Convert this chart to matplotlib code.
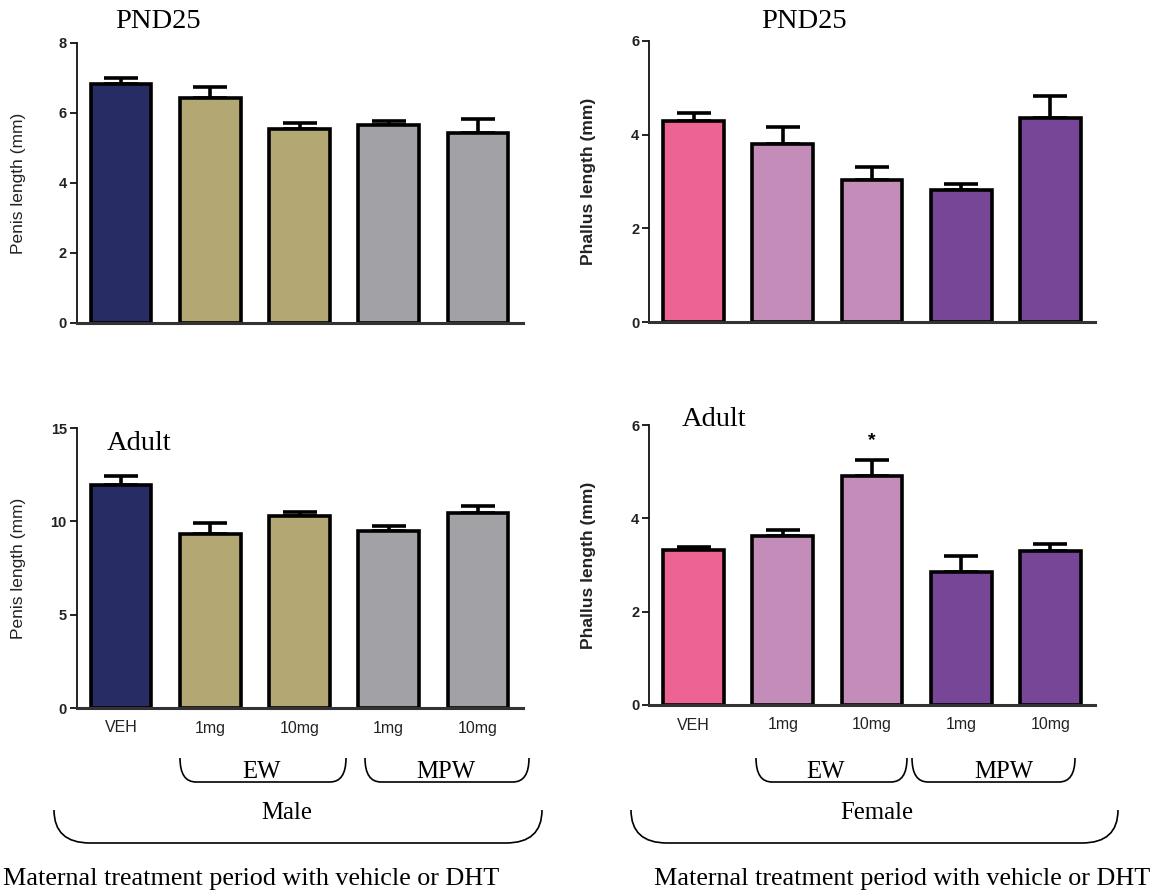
import matplotlib
matplotlib.use("Agg")
import matplotlib.pyplot as plt
from matplotlib.path import Path
from matplotlib.patches import PathPatch
import numpy as np

# ---------------- data ----------------
groups = ["VEH", "1mg", "10mg", "1mg", "10mg"]

male_pnd25 = [6.83, 6.44, 5.54, 5.66, 5.42]
male_pnd25_sem = [0.17, 0.31, 0.16, 0.12, 0.41]
female_pnd25 = [4.30, 3.81, 3.04, 2.81, 4.35]
female_pnd25_sem = [0.16, 0.35, 0.27, 0.14, 0.47]
male_adult = [11.92, 9.34, 10.26, 9.46, 10.45]
male_adult_sem = [0.52, 0.57, 0.24, 0.27, 0.35]
female_adult = [3.32, 3.62, 4.91, 2.86, 3.31]
female_adult_sem = [0.07, 0.14, 0.34, 0.33, 0.15]

male_colors = ["#282C64", "#B3A874", "#B3A874", "#A2A1A6", "#A2A1A6"]
female_colors = ["#ED6494", "#C38CB9", "#C38CB9", "#784696", "#784696"]

SANS = "Liberation Sans"
SERIF = "Liberation Serif"

W, H = 1156, 896
fig = plt.figure(figsize=(W / 100, H / 100), dpi=100)
fig.patch.set_facecolor("white")


def rect(x0, x1, ytop, ybot):
    return [x0 / W, 1 - ybot / H, (x1 - x0) / W, (ybot - ytop) / H]


def panel(r, vals, sem, colors, ymax, yticks, ylabel, ybold, show_x, labx):
    ax = fig.add_axes(r)
    x = np.arange(len(vals))
    ax.errorbar(x, vals, yerr=[np.zeros(len(vals)), sem], fmt="none",
                ecolor="black", elinewidth=2.6, capsize=12, capthick=2.6,
                zorder=1, clip_on=False)
    ax.bar(x, vals, width=0.68, color=colors, edgecolor="black",
           linewidth=2.6, zorder=2, clip_on=False)
    ax.set_xlim(-0.5, len(vals) - 0.5)
    ax.set_ylim(0, ymax)
    ax.set_yticks(yticks)
    ax.set_yticklabels([str(t) for t in yticks], fontfamily=SANS,
                       fontweight="bold", fontsize=10.5, color="#222222")
    for s in ["top", "right"]:
        ax.spines[s].set_visible(False)
    ax.spines["left"].set_linewidth(1.3)
    ax.spines["left"].set_color("#111111")
    ax.spines["bottom"].set_linewidth(2.2)
    ax.spines["bottom"].set_color("#333333")
    ax.tick_params(axis="y", direction="out", length=5, width=1.3, pad=2,
                   color="#111111")
    ax.tick_params(axis="x", length=0, pad=9)
    ax.set_xticks(x)
    if show_x:
        ax.set_xticklabels(groups, fontfamily=SANS, fontsize=11.5,
                           color="#222222")
    else:
        ax.set_xticklabels([])
    ax.set_ylabel(ylabel, fontfamily=SANS, fontsize=12.5,
                  fontweight="bold" if ybold else "normal", va="center",
                  color="#222222")
    ax.yaxis.set_label_coords(labx, 0.5)
    ax.patch.set_alpha(0)
    return ax


LX0, LX1 = 76.5, 522.5
RX0, RX1 = 649, 1095
ax1 = panel(rect(LX0, LX1, 43, 323), male_pnd25, male_pnd25_sem, male_colors,
            8, [0, 2, 4, 6, 8], "Penis length (mm)", False, False,
            (19 - LX0) / (LX1 - LX0))
ax2 = panel(rect(RX0, RX1, 41, 322), female_pnd25, female_pnd25_sem,
            female_colors, 6, [0, 2, 4, 6], "Phallus length (mm)", True,
            False, (589 - RX0) / (RX1 - RX0))
ax3 = panel(rect(LX0, LX1, 428, 708), male_adult, male_adult_sem, male_colors,
            15, [0, 5, 10, 15], "Penis length (mm)", False, True,
            (19 - LX0) / (LX1 - LX0))
ax4 = panel(rect(RX0, RX1, 425, 705), female_adult, female_adult_sem,
            female_colors, 6, [0, 2, 4, 6], "Phallus length (mm)", True,
            True, (589 - RX0) / (RX1 - RX0))

ax4.text(2, 5.66, "*", ha="center", va="center", fontsize=14,
         fontweight="bold", fontfamily=SANS)

# ---------------- overlay for annotations (pixel coordinates) ----------------
ov = fig.add_axes([0, 0, 1, 1])
ov.set_xlim(0, W)
ov.set_ylim(H, 0)
ov.axis("off")
ov.patch.set_alpha(0)


def serif(x, y, s, size, ha="center"):
    ov.text(x, y, s, ha=ha, va="center", fontsize=size, fontfamily=SERIF,
            color="black")


serif(157.5, 22, "PND25", 20.5)
serif(804, 22, "PND25", 20.5)
serif(107, 444, "Adult", 20.5, ha="left")
serif(682, 420, "Adult", 20.5, ha="left")


def bracket(x0, x1, yt, yb, r):
    verts = [(x0, yt), (x0, yb), (x0 + r, yb), (x1 - r, yb), (x1, yb), (x1, yt)]
    codes = [Path.MOVETO, Path.CURVE3, Path.CURVE3, Path.LINETO,
             Path.CURVE3, Path.CURVE3]
    ov.add_patch(PathPatch(Path(verts, codes), fill=False, lw=1.2,
                           edgecolor="black"))


# male brackets
bracket(180, 346, 758, 782, 16)
bracket(365, 529, 758, 782, 16)
bracket(54, 542, 810, 843, 36)
serif(262, 772, "EW", 17.8)
serif(446, 772, "MPW", 17.8)
serif(287, 813, "Male", 17.8)

# female brackets
bracket(756, 907, 758, 782, 16)
bracket(912, 1075, 758, 782, 16)
bracket(631, 1118, 810, 843, 36)
serif(826, 772, "EW", 17.8)
serif(1004, 772, "MPW", 17.8)
serif(877, 813, "Female", 17.8)

serif(3, 879, "Maternal treatment period with vehicle or DHT", 18.8, ha="left")
serif(1150, 879, "Maternal treatment period with vehicle or DHT", 18.8,
      ha="right")

fig.savefig("out.png", dpi=100)
